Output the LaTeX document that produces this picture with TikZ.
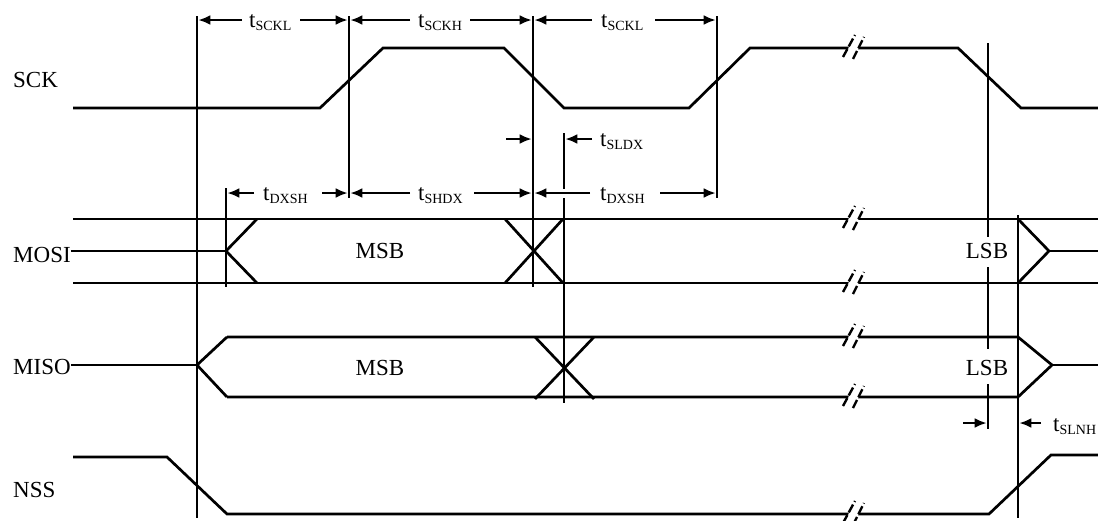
\documentclass[tikz,border=0pt]{standalone}
\usepackage{fontspec}
\setmainfont{Liberation Serif}
\usetikzlibrary{arrows.meta}
\newcommand{\tsub}[1]{t\raisebox{-3pt}{\fontsize{14}{14}\selectfont #1}}
\newcommand{\brkmark}[2]{%
  \fill[white] ({#1-6},{#2+5}) -- ({#1-3},{#2-5}) -- ({#1+7},{#2-5}) -- ({#1+4},{#2+5}) -- cycle;
  \draw[brkln] ({#1-10},{#2+9}) -- ({#1+2},{#2-13});
  \draw[brkln] ({#1},{#2+11}) -- ({#1+11},{#2-11});}
\begin{document}
\begin{tikzpicture}[x=1pt,y=-1pt,
  sig/.style={line width=2.7pt, line join=miter},
  vln/.style={line width=2.7pt},
  dim/.style={line width=2.6pt, -{Latex[length=12pt,width=10pt]}},
  lbl/.style={font=\fontsize{23}{23}\selectfont, inner sep=0pt, anchor=base west},
  ctr/.style={font=\fontsize{23}{23}\selectfont, inner sep=0pt, anchor=base},
  brkln/.style={line width=2.4pt, dash pattern=on 9pt off 3pt}
]
\useasboundingbox (0,0) rectangle (1098,520);

% signal names
\node[lbl] (sck)  at (13,87)  {SCK};
\node[lbl] (mosi) at (13,262) {MOSI};
\node[lbl] (miso) at (13,374) {MISO};
\node[lbl] (nss)  at (13,497) {NSS};

% vertical reference lines
\draw[vln] (197,16) -- (197,518);
\draw[vln] (349,16) -- (349,198);
\draw[vln] (533,16) -- (533,287);
\draw[vln] (717,16) -- (717,198);
\draw[vln] (988,43) -- (988,237) (988,267) -- (988,349) (988,384) -- (988,429);
\draw[vln] (1018,215) -- (1018,518);
\draw[vln] (226,188) -- (226,287);
\draw[vln] (564,133) -- (564,189) (564,198) -- (564,403);

% SCK
\draw[sig] (73,108) -- (320,108) -- (383,48) -- (504,48) -- (564,108) -- (689,108) -- (750,48) -- (958,48) -- (1021,108) -- (1098,108);

% MOSI
\draw[sig] (73,219) -- (1098,219);
\draw[sig] (73,283) -- (1098,283);
\draw[sig] (mosi.east|-0,251) -- (226,251);
\draw[sig] (257,219) -- (226,251) -- (257,283);
\draw[sig] (505,219) -- (563,283);
\draw[sig] (505,283) -- (563,219);
\draw[sig] (1018,219) -- (1049,251) -- (1018,283);
\draw[sig] (1049,251) -- (1098,251);
\node[ctr] (msb1) at (380,258) {MSB};
\node[ctr] (lsb1) at (987,258) {LSB};

% MISO
\draw[sig] (miso.east|-0,365) -- (197,365);
\draw[sig] (227,337) -- (197,365) -- (227,397);
\draw[sig] (227,337) -- (1018,337) -- (1052,365) -- (1018,397) -- (227,397);
\draw[sig] (1052,365) -- (1098,365);
\draw[sig] (535,337) -- (594,399);
\draw[sig] (535,399) -- (594,337);
\node[ctr] (msb2) at (380,375) {MSB};
\node[ctr] (lsb2) at (987,375) {LSB};

% NSS
\draw[sig] (73,457) -- (167,457) -- (227,514) -- (989,514) -- (1051,455) -- (1098,455);

% break marks
\brkmark{853}{48}
\brkmark{853}{219}
\brkmark{853}{283}
\brkmark{853}{337}
\brkmark{853}{397}
\brkmark{853}{514}

% timing annotations, top row
\node[lbl] (tsckl1) at (249,27) {\tsub{SCKL}};
\draw[dim] (242,20) -- (198.3,20);
\draw[dim] (300,20) -- (347.7,20);
\node[lbl] (tsckh) at (418,27) {\tsub{SCKH}};
\draw[dim] (410,20) -- (350.3,20);
\draw[dim] (470,20) -- (531.7,20);
\node[lbl] (tsckl2) at (601,27) {\tsub{SCKL}};
\draw[dim] (592,20) -- (534.3,20);
\draw[dim] (655,20) -- (715.7,20);

% tSLDX
\node[lbl] (tsldx) at (600,146) {\tsub{SLDX}};
\draw[dim] (506,139) -- (531.7,139);
\draw[dim] (592,139) -- (565.3,139);

% second row
\node[lbl] (tdxsh1) at (263,200) {\tsub{DXSH}};
\draw[dim] (254,193) -- (227.3,193);
\draw[dim] (322,193) -- (347.7,193);
\node[lbl] (tshdx) at (418,200) {\tsub{SHDX}};
\draw[dim] (410,193) -- (350.3,193);
\draw[dim] (474,193) -- (531.7,193);
\node[lbl] (tdxsh2) at (600,200) {\tsub{DXSH}};
\draw[dim] (590,193) -- (534.3,193);
\draw[dim] (660,193) -- (715.7,193);

% tSLNH
\node[lbl] (tslnh) at (1053,431) {\tsub{SLNH}};
\draw[dim] (963,423) -- (986.7,423);
\draw[dim] (1041,423) -- (1019.3,423);
\end{tikzpicture}
\end{document}
